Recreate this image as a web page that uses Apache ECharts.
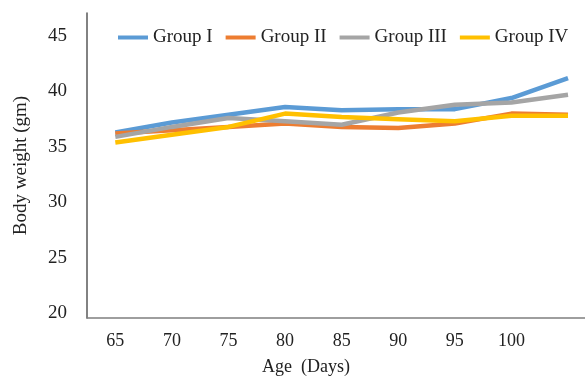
<!DOCTYPE html>
<html>
<head>
<meta charset="utf-8">
<script src="https://cdn.jsdelivr.net/npm/echarts@6/dist/echarts.min.js"></script>
<style>
  html, body { margin: 0; padding: 0; background: #fff; }
  #chart { width: 585px; height: 381px; }
</style>
</head>
<body>
<div id="chart"></div>
<script>
// ages (days); the last point has no tick label in the original
var ages = [65, 70, 75, 80, 85, 90, 95, 100, 105]
var ageLabels = [65, 70, 75, 80, 85, 90, 95, 100]
var weightLabels = [20, 25, 30, 35, 40, 45]

var groupI = [36.3, 37.2, 37.9, 38.6, 38.3, 38.4, 38.4, 39.4, 41.2]
var groupII = [36.2, 36.5, 36.8, 37.1, 36.8, 36.7, 37.1, 38.0, 37.9]
var groupIII = [35.9, 36.8, 37.6, 37.3, 37.0, 38.1, 38.8, 39.0, 39.7]
var groupIV = [35.4, 36.1, 36.8, 38.0, 37.7, 37.5, 37.3, 37.8, 37.8]

var names = ['Group I', 'Group II', 'Group III', 'Group IV']
var colors = ['#5b9bd5', '#ed7d31', '#a5a5a5', '#ffc000']
var values = [groupI, groupII, groupIII, groupIV]

var font = '"Liberation Serif", "Times New Roman", serif'

var series = []
for (var i = 0; i < names.length; i++) {
  series.push({
    name: names[i],
    type: 'line',
    symbol: 'none',
    lineStyle: { width: 4.5, color: colors[i] },
    itemStyle: { color: colors[i] },
    data: ages.map(function (a, k) { return [a, values[i][k]] })
  })
}

var chart = echarts.init(document.getElementById('chart'))
chart.setOption({
  backgroundColor: '#fff',
  animation: false,
  textStyle: { fontFamily: font },
  legend: {
    left: 118,
    right: 0,
    top: 28,
    padding: 0,
    icon: 'rect',
    itemWidth: 30,
    itemHeight: 4,
    itemGap: 13,
    textStyle: { fontFamily: font, fontSize: 19, color: '#222' },
    data: names
  },
  grid: { left: 87, right: 0, top: 13, bottom: 60 },
  xAxis: {
    type: 'value',
    min: 62.5,
    max: 106.5,
    name: 'Age  (Days)',
    nameLocation: 'middle',
    nameGap: 40,
    nameTextStyle: { fontFamily: font, fontSize: 18, color: '#222', padding: [0, 60, 0, 0] },
    axisLine: { lineStyle: { color: '#7f7f7f', width: 1.5 } },
    axisTick: { show: false },
    splitLine: { show: false },
    axisLabel: {
      customValues: ageLabels,
      margin: 14,
      fontFamily: font,
      fontSize: 18,
      color: '#222'
    }
  },
  yAxis: {
    type: 'value',
    min: 19.57,
    max: 47.07,
    name: 'Body weight (gm)',
    nameLocation: 'middle',
    nameGap: 56,
    nameTextStyle: { fontFamily: font, fontSize: 19, color: '#222' },
    axisLine: { show: true, lineStyle: { color: '#595959', width: 1.5 } },
    axisTick: { show: false },
    splitLine: { show: false },
    axisLabel: {
      customValues: weightLabels,
      margin: 20,
      fontFamily: font,
      fontSize: 19,
      color: '#222'
    }
  },
  series: series
})
</script>
</body>
</html>
